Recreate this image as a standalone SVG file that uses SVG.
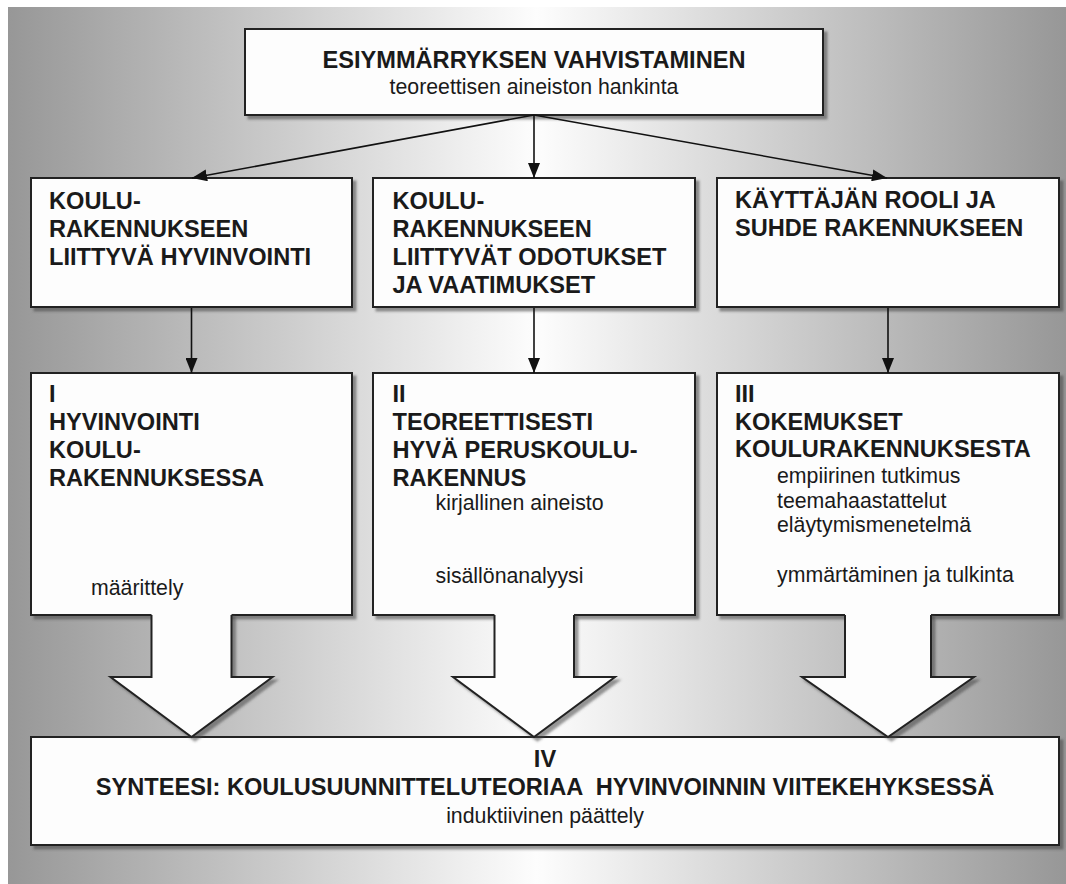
<svg xmlns="http://www.w3.org/2000/svg" width="1066" height="884" viewBox="0 0 1066 884">
<defs>
  <linearGradient id="bg" x1="8" y1="0" x2="1066" y2="0" gradientUnits="userSpaceOnUse">
    <stop offset="0" stop-color="#979797"/>
    <stop offset="0.5" stop-color="#fdfdfd"/>
    <stop offset="1" stop-color="#979797"/>
  </linearGradient>
  <filter id="sh" x="-5%" y="-5%" width="110%" height="115%">
    <feDropShadow dx="3.5" dy="3.5" stdDeviation="0.8" flood-color="#444" flood-opacity="0.55"/>
  </filter>
  <marker id="ah" markerUnits="userSpaceOnUse" viewBox="0 0 15 12" refX="15" refY="6" markerWidth="15" markerHeight="12" orient="auto">
    <path d="M0,0 L15,6 L0,12 Z" fill="#111"/>
  </marker>
  <style>
    .box { fill:#fdfdfd; stroke:#222; stroke-width:2; }
    .h { font-family:"Liberation Sans", Arial, sans-serif; font-weight:bold; font-size:23.6px; fill:#1a1a1a; }
    .t { font-family:"Liberation Sans", Arial, sans-serif; font-size:21.3px; fill:#1a1a1a; }
    .c { text-anchor:middle; }
    .ln { stroke:#111; stroke-width:1.6; fill:none; }
    .bf { fill:#fdfdfd; stroke:none; }
    .bo { fill:none; stroke:#222; stroke-width:2; stroke-linejoin:miter; }
  </style>
</defs>

<rect x="8" y="7" width="1058" height="877" fill="url(#bg)"/>

<g id="node-top">
  <rect class="box" x="245" y="29" width="578" height="86" filter="url(#sh)"/>
  <text class="h c" x="534" y="68">ESIYMMÄRRYKSEN VAHVISTAMINEN</text>
  <text class="t c" x="534" y="94">teoreettisen aineiston hankinta</text>
</g>

<g id="node-a">
  <rect class="box" x="31" y="178" width="321" height="129" filter="url(#sh)"/>
  <text class="h" x="49" y="209">KOULU-</text>
  <text class="h" x="49" y="237">RAKENNUKSEEN</text>
  <text class="h" x="49" y="265">LIITTYVÄ HYVINVOINTI</text>
</g>

<g id="node-b">
  <rect class="box" x="373" y="178" width="322" height="129" filter="url(#sh)"/>
  <text class="h" x="392.5" y="209">KOULU-</text>
  <text class="h" x="392.5" y="237">RAKENNUKSEEN</text>
  <text class="h" x="392.5" y="265">LIITTYVÄT ODOTUKSET</text>
  <text class="h" x="392.5" y="293">JA VAATIMUKSET</text>
</g>

<g id="node-c">
  <rect class="box" x="717" y="178" width="342" height="129" filter="url(#sh)"/>
  <text class="h" x="735" y="208">KÄYTTÄJÄN ROOLI JA</text>
  <text class="h" x="735" y="236">SUHDE RAKENNUKSEEN</text>
</g>

<g id="node-i">
  <rect class="box" x="31" y="373" width="321" height="242" filter="url(#sh)"/>
  <text class="h" x="49" y="402">I</text>
  <text class="h" x="49" y="430">HYVINVOINTI</text>
  <text class="h" x="49" y="458">KOULU-</text>
  <text class="h" x="49" y="486">RAKENNUKSESSA</text>
  <text class="t" x="91" y="595">määrittely</text>
</g>

<g id="node-ii">
  <rect class="box" x="373" y="373" width="322" height="242" filter="url(#sh)"/>
  <text class="h" x="392.5" y="402">II</text>
  <text class="h" x="392.5" y="430">TEOREETTISESTI</text>
  <text class="h" x="392.5" y="458">HYVÄ PERUSKOULU-</text>
  <text class="h" x="392.5" y="486">RAKENNUS</text>
  <text class="t" x="435.5" y="510">kirjallinen aineisto</text>
  <text class="t" x="435.5" y="583">sisällönanalyysi</text>
</g>

<g id="node-iii">
  <rect class="box" x="717" y="373" width="342" height="242" filter="url(#sh)"/>
  <text class="h" x="735" y="402">III</text>
  <text class="h" x="735" y="430">KOKEMUKSET</text>
  <text class="h" x="735" y="457">KOULURAKENNUKSESTA</text>
  <text class="t" x="777" y="483">empiirinen tutkimus</text>
  <text class="t" x="777" y="507.5">teemahaastattelut</text>
  <text class="t" x="777" y="532">eläytymismenetelmä</text>
  <text class="t" x="777" y="582">ymmärtäminen ja tulkinta</text>
</g>

<g id="node-iv">
  <rect class="box" x="31" y="737" width="1028" height="108" filter="url(#sh)"/>
  <text class="h c" x="545" y="767">IV</text>
  <text class="h c" x="545" y="795" xml:space="preserve">SYNTEESI: KOULUSUUNNITTELUTEORIAA  HYVINVOINNIN VIITEKEHYKSESSÄ</text>
  <text class="t c" x="545" y="823">induktiivinen päättely</text>
</g>

<g id="connectors">
  <line class="ln" x1="534" y1="115" x2="192" y2="178" marker-end="url(#ah)"/>
  <line class="ln" x1="534" y1="115" x2="534" y2="178" marker-end="url(#ah)"/>
  <line class="ln" x1="534" y1="115" x2="887" y2="178" marker-end="url(#ah)"/>
  <line class="ln" x1="191.5" y1="308" x2="191.5" y2="373" marker-end="url(#ah)"/>
  <line class="ln" x1="534" y1="308" x2="534" y2="373" marker-end="url(#ah)"/>
  <line class="ln" x1="888" y1="308" x2="888" y2="373" marker-end="url(#ah)"/>

  <g id="block-i" filter="url(#sh)">
    <path class="bf" d="M151.5,612 V677 H110.5 L191.5,737 L272.5,677 H231.5 V612 Z"/>
    <path class="bo" d="M151.5,615 V677 H110.5 L191.5,737 L272.5,677 H231.5 V615"/>
  </g>
  <g id="block-ii" filter="url(#sh)">
    <path class="bf" d="M494.5,612 V677 H453 L534,737 L615,677 H574 V612 Z"/>
    <path class="bo" d="M494.5,615 V677 H453 L534,737 L615,677 H574 V615"/>
  </g>
  <g id="block-iii" filter="url(#sh)">
    <path class="bf" d="M845,612 V677 H802 L888,737 L974,677 H931 V612 Z"/>
    <path class="bo" d="M845,615 V677 H802 L888,737 L974,677 H931 V615"/>
  </g>
</g>
</svg>
